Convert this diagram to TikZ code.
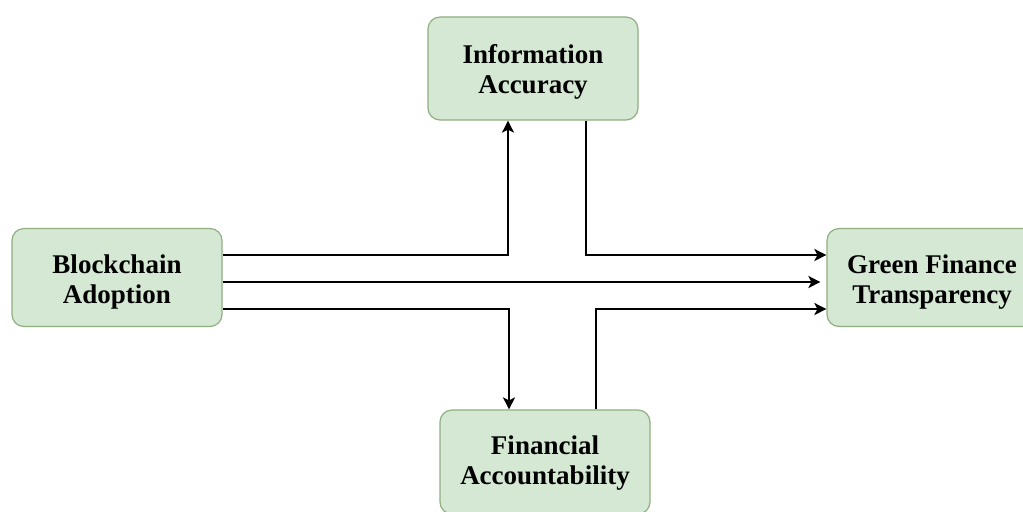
\documentclass[tikz,border=0pt]{standalone}
\usepackage{fontspec}
\setmainfont{Liberation Serif}
\usetikzlibrary{arrows.meta}
\definecolor{boxfill}{HTML}{D5E8D4}
\definecolor{boxline}{HTML}{8FAF7F}
\begin{document}
\begin{tikzpicture}[x=0.5pt,y=-0.5pt,
  box/.style={draw=boxline, fill=boxfill, line width=0.6pt, rounded corners=6pt,
    minimum width=105pt, minimum height=49pt, inner sep=0pt},
  lbl/.style={inner sep=0pt, align=center,
    font=\fontsize{13.5pt}{15pt}\selectfont\bfseries},
  conn/.style={line width=1pt, -{Stealth[length=6pt,width=6pt,inset=1.5pt]}}]
\useasboundingbox (0,0) rectangle (1023,511);
\clip (0,0) rectangle (1023,511);
\fill[white] (0,0) rectangle (1023,511);
\node[box] (bc) at (117,277.5) {};
\node[box, minimum height=51.5pt] (ia) at (533,68.5) {};
\node[box, minimum height=52pt] (fa) at (545,462) {};
\node[box] (gf) at (932,277.5) {};
\node[lbl] (bct) at ([yshift=-2pt]bc.center) {Blockchain\\Adoption};
\node[lbl] (iat) at ([yshift=-1.5pt]ia.center) {Information\\Accuracy};
\node[lbl] (fat) at ([yshift=-0.5pt]fa.center) {Financial\\Accountability};
\node[lbl] (gft) at ([yshift=-2.5pt]gf.center) {Green Finance\\Transparency};
\draw[conn] ([yshift=11.25pt]bc.east) -| ([xshift=-12.5pt]ia.south);
\draw[conn] ([xshift=26.5pt]ia.south) |- ([yshift=11.25pt]gf.west);
\draw[conn] ([yshift=-2.25pt]bc.east) -- ([yshift=-2.25pt,xshift=-3pt]gf.west);
\draw[conn] ([yshift=-15.75pt]bc.east) -| ([xshift=-18pt]fa.north);
\draw[conn] ([xshift=25.5pt]fa.north) |- ([yshift=-15.75pt]gf.west);
\end{tikzpicture}
\end{document}
